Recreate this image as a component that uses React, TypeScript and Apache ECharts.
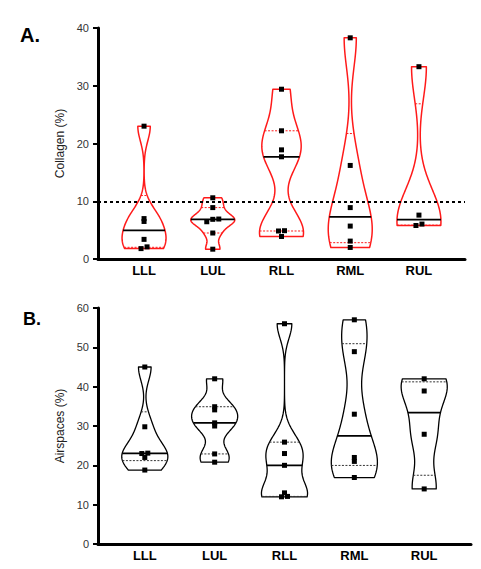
import React, { useEffect, useRef } from "react";
import * as echarts from "echarts";

// Lung lobes on the x axis
const categories = ["LLL", "LUL", "RLL", "RML", "RUL"];

// Collagen (%) per lobe
const collagenLLL = [1.8, 2.1, 3.4, 6.5, 7.0, 23.0];
const collagenLUL = [1.7, 4.5, 6.45, 6.87, 6.92, 8.9, 10.6];
const collagenRLL = [3.9, 4.85, 4.9, 17.7, 18.9, 22.2, 29.4];
const collagenRML = [2.0, 3.1, 5.7, 8.9, 16.2, 38.3];
const collagenRUL = [5.8, 6.05, 7.6, 33.3];

// Airspaces (%) per lobe
const airLLL = [18.8, 22.0, 23.0, 23.1, 29.8, 45.0];
const airLUL = [20.8, 22.9, 30.0, 30.8, 34.1, 34.9, 42.0];
const airRLL = [12.0, 12.1, 13.0, 20.0, 23.0, 25.9, 56.0];
const airRML = [16.9, 21.0, 22.0, 33.0, 48.9, 57.0];
const airRUL = [14.0, 27.9, 38.9, 42.0];

const collagenTicks = [0, 10, 20, 30, 40];
const airTicks = [0, 10, 20, 30, 40, 50, 60];
const collagenThreshold = 10;

const collagenGroups = [collagenLLL, collagenLUL, collagenRLL, collagenRML, collagenRUL];
const airGroups = [airLLL, airLUL, airRLL, airRML, airRUL];

const FONT = "'Liberation Sans', Arial, Helvetica, sans-serif";
const RED = "#ff1a1a";

// quartile by the (n + 1) p position rule
function quantile(s: number[], p: number) {
  const n = s.length;
  const pos = p * (n + 1);
  if (pos <= 1) return s[0];
  if (pos >= n) return s[n - 1];
  const i = Math.floor(pos);
  const f = pos - i;
  return s[i - 1] + f * (s[i] - s[i - 1]);
}

function bandwidth(s: number[]) {
  const n = s.length;
  const mean = s.reduce((a, b) => a + b, 0) / n;
  const sd = Math.sqrt(s.reduce((a, b) => a + (b - mean) * (b - mean), 0) / (n - 1));
  const iqr = quantile(s, 0.75) - quantile(s, 0.25);
  const spread = iqr > 0 ? Math.min(sd, iqr / 1.34) : sd;
  return 0.6 * 0.9 * spread * Math.pow(n, -0.2);
}

type ViolinStyle = {
  stroke: string;
  lineWidth: number;
  quartileColor: string;
  halfWidth: number;
};

function makeRenderItem(groups: number[][], vs: ViolinStyle) {
  return (params: any, api: any) => {
    const idx = api.value(0);
    const s = groups[idx].slice().sort((a, b) => a - b);
    const n = s.length;
    const h = bandwidth(s);
    const lo = s[0];
    const hi = s[n - 1];
    const dens = (y: number) =>
      s.reduce((acc, v) => acc + Math.exp(-0.5 * ((y - v) / h) * ((y - v) / h)), 0);
    const N = 120;
    const ys: number[] = [];
    for (let i = 0; i <= N; i++) ys.push(lo + ((hi - lo) * i) / N);
    let dmax = 0;
    ys.forEach((y) => (dmax = Math.max(dmax, dens(y))));
    const half = (y: number) => (vs.halfWidth * dens(y)) / dmax;

    const pts: number[][] = [];
    ys.forEach((y) => pts.push(api.coord([idx + half(y), y])));
    for (let i = ys.length - 1; i >= 0; i--) pts.push(api.coord([idx - half(ys[i]), ys[i]]));

    const children: any[] = [
      {
        type: "polygon",
        shape: { points: pts },
        style: { fill: "#ffffff", stroke: vs.stroke, lineWidth: vs.lineWidth, lineJoin: "round" },
      },
    ];

    const levelLine = (y: number, style: any) => {
      const a = api.coord([idx - half(y), y]);
      const b = api.coord([idx + half(y), y]);
      return { type: "line", shape: { x1: a[0], y1: a[1], x2: b[0], y2: b[1] }, style };
    };

    [quantile(s, 0.25), quantile(s, 0.75)].forEach((q) =>
      children.push(
        levelLine(q, { stroke: vs.quartileColor, lineWidth: 1, lineDash: [2, 1.5] })
      )
    );
    children.push(levelLine(quantile(s, 0.5), { stroke: "#000000", lineWidth: 1.7 }));

    // data points, nudged sideways where they would overlap
    const py = s.map((v) => api.coord([idx, v]));
    const clusters: number[][] = [];
    s.forEach((v, i) => {
      if (i > 0 && Math.abs(py[i][1] - py[i - 1][1]) < 2.8) clusters[clusters.length - 1].push(i);
      else clusters.push([i]);
    });
    const size = 5;
    clusters.forEach((c) => {
      c.forEach((i, j) => {
        const dx = (j - (c.length - 1) / 2) * 6;
        children.push({
          type: "rect",
          shape: { x: py[i][0] + dx - size / 2, y: py[i][1] - size / 2, width: size, height: size },
          style: { fill: "#000000" },
        });
      });
    });

    return { type: "group", children };
  };
}

function xAxisFor(gridIndex: number) {
  return {
    type: "value" as const,
    gridIndex,
    min: -0.67,
    max: 4.67,
    splitLine: { show: false },
    axisTick: { show: false },
    axisLine: { show: true, onZero: false, lineStyle: { color: "#000", width: 3 } },
    axisLabel: {
      customValues: [0, 1, 2, 3, 4],
      formatter: (v: number) => categories[Math.round(v)] ?? "",
      fontFamily: FONT,
      fontWeight: "bold" as const,
      fontSize: 13,
      color: "#000",
      margin: 5,
    },
  };
}

function yAxisFor(gridIndex: number, ticks: number[], name: string) {
  return {
    type: "value" as const,
    gridIndex,
    min: ticks[0],
    max: ticks[ticks.length - 1],
    interval: ticks[1] - ticks[0],
    name,
    nameLocation: "middle" as const,
    nameGap: 24,
    nameTextStyle: { fontFamily: FONT, fontSize: 12, color: "#222" },
    splitLine: { show: false },
    axisLine: { show: true, onZero: false, lineStyle: { color: "#000", width: 3 } },
    axisTick: { show: true, length: 5, lineStyle: { color: "#000", width: 2 } },
    axisLabel: { fontFamily: FONT, fontSize: 11, color: "#333", margin: 9 },
  };
}

export default function App() {
  const ref = useRef<HTMLDivElement>(null);

  useEffect(() => {
    if (!ref.current) return;
    const chart = echarts.init(ref.current, undefined, { renderer: "svg" });
    const idxData = categories.map((_, i) => [i, 0]);

    chart.setOption({
      animation: false,
      backgroundColor: "#ffffff",
      grid: [
        { left: 98, right: 16, top: 28, height: 231 },
        { left: 98, right: 10, top: 308, height: 236 },
      ],
      xAxis: [xAxisFor(0), xAxisFor(1)],
      yAxis: [
        yAxisFor(0, collagenTicks, "Collagen (%)"),
        yAxisFor(1, airTicks, "Airspaces (%)"),
      ],
      graphic: [
        {
          type: "text",
          left: 20,
          top: 25,
          style: { text: "A.", font: `bold 20px ${FONT}`, fill: "#000" },
        },
        {
          type: "text",
          left: 23,
          top: 310,
          style: { text: "B.", font: `bold 18px ${FONT}`, fill: "#000" },
        },
      ],
      series: [
        {
          type: "custom",
          name: "Collagen",
          xAxisIndex: 0,
          yAxisIndex: 0,
          data: idxData,
          encode: { x: 0, y: 1 },
          clip: false,
          renderItem: makeRenderItem(collagenGroups, {
            stroke: RED,
            lineWidth: 1.5,
            quartileColor: RED,
            halfWidth: 0.32,
          }),
          markLine: {
            silent: true,
            symbol: "none",
            label: { show: false },
            lineStyle: { color: "#000", width: 1.8, type: [3, 3] },
            data: [{ yAxis: collagenThreshold }],
            z: 10,
          },
        },
        {
          type: "custom",
          name: "Airspaces",
          xAxisIndex: 1,
          yAxisIndex: 1,
          data: idxData,
          encode: { x: 0, y: 1 },
          clip: false,
          renderItem: makeRenderItem(airGroups, {
            stroke: "#000",
            lineWidth: 1.3,
            quartileColor: "#333",
            halfWidth: 0.33,
          }),
        },
      ],
    });

    return () => chart.dispose();
  }, []);

  return (
    <div
      ref={ref}
      style={{ position: "fixed", left: 0, top: 0, width: 481, height: 569, background: "#fff" }}
    />
  );
}
